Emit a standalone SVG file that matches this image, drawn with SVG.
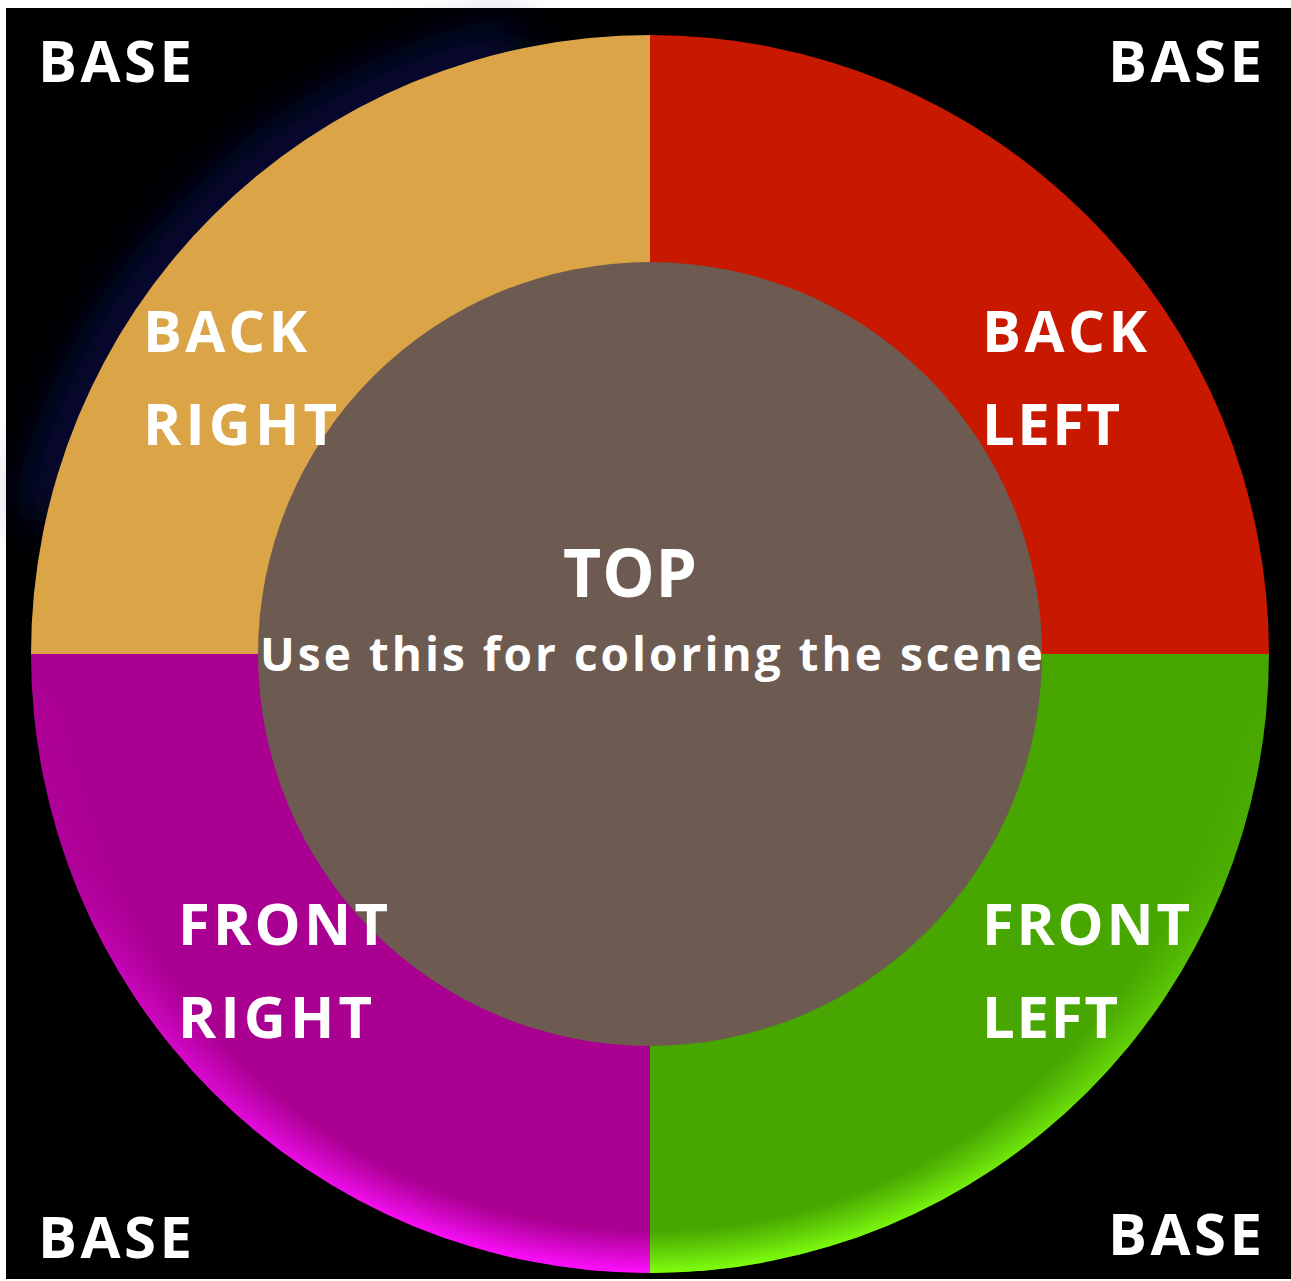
<svg xmlns="http://www.w3.org/2000/svg" width="1291" height="1281" viewBox="0 0 1291 1281">
<defs>
<style>
.lbl{font-family:"Open Sans","Liberation Sans",sans-serif;font-weight:bold;fill:#ffffff;font-size:58px;}
</style>
<radialGradient id="gMagRim" cx="650" cy="654" r="619" gradientUnits="userSpaceOnUse">
<stop offset="0" stop-color="#ff10ff" stop-opacity="0"/>
<stop offset="0.93" stop-color="#ff10ff" stop-opacity="0"/>
<stop offset="1" stop-color="#ff10ff" stop-opacity="1"/>
</radialGradient>
<radialGradient id="gGrnRim" cx="650" cy="654" r="619" gradientUnits="userSpaceOnUse">
<stop offset="0" stop-color="#80ff10" stop-opacity="0"/>
<stop offset="0.93" stop-color="#80ff10" stop-opacity="0"/>
<stop offset="1" stop-color="#80ff10" stop-opacity="1"/>
</radialGradient>
<linearGradient id="fadeV" x1="0" y1="654" x2="0" y2="1273" gradientUnits="userSpaceOnUse">
<stop offset="0" stop-color="#fff" stop-opacity="0"/>
<stop offset="0.35" stop-color="#fff" stop-opacity="0.1"/>
<stop offset="1" stop-color="#fff" stop-opacity="1"/>
</linearGradient>
<mask id="mV" maskUnits="userSpaceOnUse" x="0" y="0" width="1291" height="1281">
<rect x="0" y="654" width="1291" height="627" fill="url(#fadeV)"/>
</mask>
<filter id="blur" x="-50%" y="-50%" width="200%" height="200%"><feGaussianBlur stdDeviation="25"/></filter>
</defs>
<rect x="0" y="0" width="1291" height="1281" fill="#ffffff"/>
<rect x="6" y="8" width="1285" height="1271" fill="#000000"/>
<g id="glow">
<path d="M 45 520 A 610 610 0 0 1 520 48" fill="none" stroke="#0c1670" stroke-width="40" filter="url(#blur)" opacity="0.7"/>
</g>
<g id="back-right"><path d="M 650 654 L 31 654 A 619 619 0 0 1 650 35 Z" fill="#dba547"/></g>
<g id="back-left"><path d="M 650 654 L 650 35 A 619 619 0 0 1 1269 654 Z" fill="#c81800"/></g>
<g id="front-left">
<path d="M 650 654 L 1269 654 A 619 619 0 0 1 650 1273 Z" fill="#47a600"/>
<path d="M 650 654 L 1269 654 A 619 619 0 0 1 650 1273 Z" fill="url(#gGrnRim)" mask="url(#mV)"/>
</g>
<g id="front-right">
<path d="M 650 654 L 650 1273 A 619 619 0 0 1 31 654 Z" fill="#aa0092"/>
<path d="M 650 654 L 650 1273 A 619 619 0 0 1 31 654 Z" fill="url(#gMagRim)" mask="url(#mV)"/>
</g>
<g id="top"><circle cx="650" cy="654" r="392" fill="#6d5a50"/></g>
<g id="labels">
<text class="lbl" x="38" y="82" textLength="154" lengthAdjust="spacing">BASE</text>
<text class="lbl" x="1108" y="82" textLength="154" lengthAdjust="spacing">BASE</text>
<text class="lbl" x="38" y="1258" textLength="154" lengthAdjust="spacing">BASE</text>
<text class="lbl" x="1108" y="1255" textLength="154" lengthAdjust="spacing">BASE</text>
<text class="lbl" x="143" y="352" textLength="164" lengthAdjust="spacing">BACK</text>
<text class="lbl" x="143" y="445" textLength="194" lengthAdjust="spacing">RIGHT</text>
<text class="lbl" x="982" y="352" textLength="165" lengthAdjust="spacing">BACK</text>
<text class="lbl" x="982" y="445" textLength="138" lengthAdjust="spacing">LEFT</text>
<text class="lbl" x="178" y="945" textLength="210" lengthAdjust="spacing">FRONT</text>
<text class="lbl" x="178" y="1038" textLength="194" lengthAdjust="spacing">RIGHT</text>
<text class="lbl" x="982" y="945" textLength="208" lengthAdjust="spacing">FRONT</text>
<text class="lbl" x="982" y="1038" textLength="136" lengthAdjust="spacing">LEFT</text>
<text class="lbl" x="563" y="597" style="font-size:66px" textLength="134" lengthAdjust="spacing">TOP</text>
<text class="lbl" x="260" y="671" style="font-size:46px" textLength="783" lengthAdjust="spacing">Use this for coloring the scene</text>
</g>
</svg>
